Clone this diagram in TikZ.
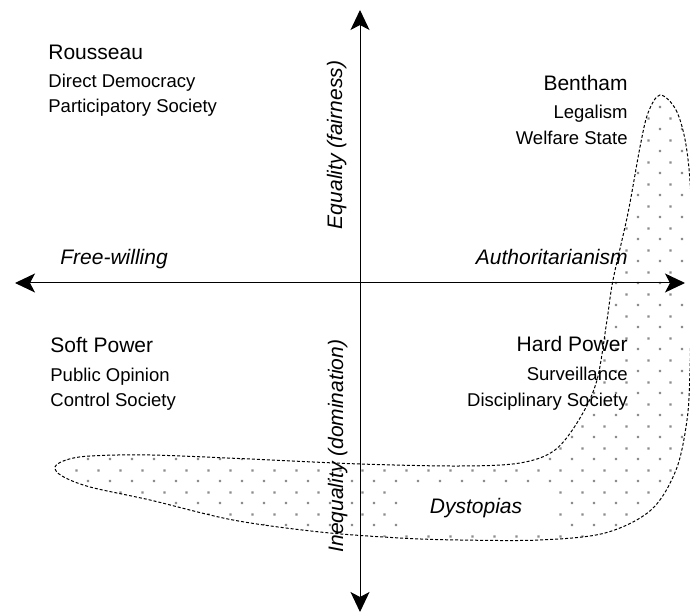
\documentclass[tikz,border=0pt]{standalone}
\usepackage{fontspec}
\setmainfont{Liberation Sans}
\usetikzlibrary{arrows.meta,patterns}

\pgfdeclarepatternformonly{sparse dots}{\pgfqpoint{-1pt}{-1pt}}{\pgfqpoint{10pt}{10pt}}{\pgfqpoint{11pt}{11pt}}{%
  \pgfpathrectangle{\pgfqpoint{-0.6pt}{-0.6pt}}{\pgfqpoint{1.2pt}{1.2pt}}%
  \pgfpathrectangle{\pgfqpoint{4.9pt}{4.9pt}}{\pgfqpoint{1.2pt}{1.2pt}}%
  \pgfusepath{fill}}

\begin{document}
\begin{tikzpicture}[x=0.5pt,y=-0.5pt,
    >={Stealth[length=10pt,width=9.5pt,inset=2.5pt]},
    axis/.style={line width=0.5pt},
    big/.style={inner sep=0pt,font=\fontsize{10.5}{12}\selectfont},
    small/.style={inner sep=0pt,font=\fontsize{9.25}{11}\selectfont},
    dir/.style={inner sep=0pt,font=\fontsize{10.5}{12}\selectfont\itshape},
    blob/.style={draw,line width=0.5pt,dash pattern=on 1.5pt off 1pt,
      pattern=sparse dots,pattern color=black!45}]

    \useasboundingbox (0,0) rectangle (690,613);

    % the dystopia region
    \draw[blob] plot[smooth cycle,tension=0.55] coordinates {
      (660,95) (676,110) (686,145) (691,200) (691,290) (690,370)
      (687,420) (676,470) (651,510) (605,533) (540,540) (460,540)
      (400,538) (320,532) (233,520) (150,500) (90,487) (62,476)
      (55,467) (66,460) (90,456) (150,455) (250,459) (360,464)
      (460,466) (520,463) (555,450) (580,418) (597,380) (607,320)
      (613,280) (628,213) (640,147) (648,113)};
    \node[dir,fill=white,minimum width=76pt,minimum height=22pt] (dys) at (476,508) {Dystopias};

    % axes
    \coordinate (N) at (360,10);
    \coordinate (S) at (360,612);
    \coordinate (W) at (15,283);
    \coordinate (E) at (685,283);
    \draw[axis,<->] (W) -- (E);
    \draw[axis,<->] (S) -- (N);

    \node[dir,anchor=base west] (free) at (60,265) {Free-willing};
    \node[dir,anchor=base east] (auth) at (628,265) {Authoritarianism};
    \node[dir,rotate=90,anchor=base] (eq) at (342,145) {Equality (fairness)};
    \node[dir,rotate=90,anchor=base] (ineq) at (343,446) {Inequality (domination)};

    % quadrants
    \node[big,anchor=base west] (rou) at (48,60) {Rousseau};
    \node[small,anchor=base west] (dd) at (48,88) {Direct Democracy};
    \node[small,anchor=base west] (ps) at (48,113) {Participatory Society};

    \node[big,anchor=base east] (ben) at (628,91) {Bentham};
    \node[small,anchor=base east] (leg) at (628,119) {Legalism};
    \node[small,anchor=base east] (ws) at (628,145) {Welfare State};

    \node[big,anchor=base west] (soft) at (50,353) {Soft Power};
    \node[small,anchor=base west] (po) at (50,382) {Public Opinion};
    \node[small,anchor=base west] (cs) at (50,407) {Control Society};

    \node[big,anchor=base east] (hard) at (628,352) {Hard Power};
    \node[small,anchor=base east] (sur) at (628,381) {Surveillance};
    \node[small,anchor=base east] (ds) at (628,407) {Disciplinary Society};
\end{tikzpicture}
\end{document}
